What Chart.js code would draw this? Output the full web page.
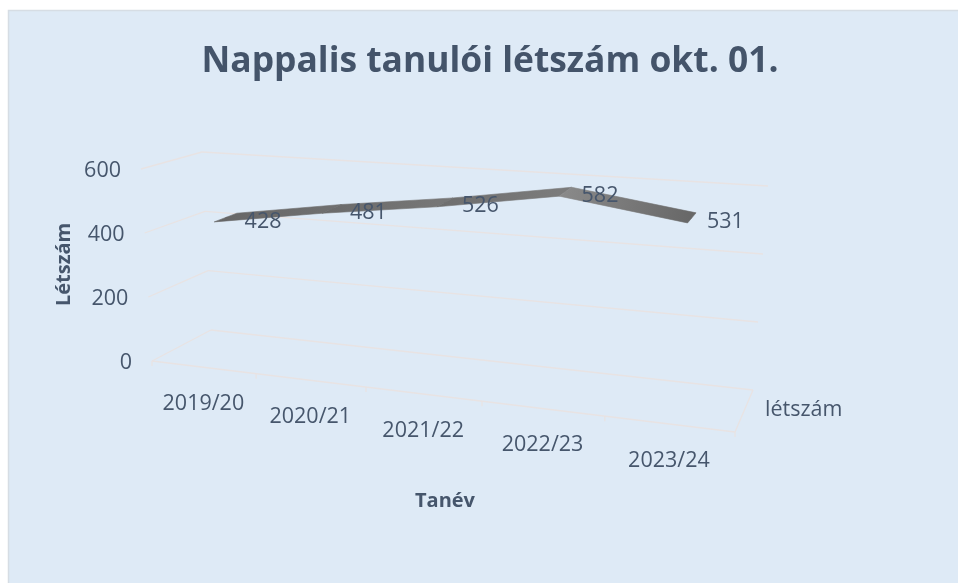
<!DOCTYPE html>
<html lang="hu"><head><meta charset="utf-8">
<style>html,body{margin:0;padding:0;background:#fff}#w{width:958px;height:583px}</style>
<script src="https://cdn.jsdelivr.net/npm/chart.js@4"></script></head>
<body><div id="w"><canvas id="c" width="958" height="583"></canvas></div>
<script>
const categories = ['2019/20','2020/21','2021/22','2022/23','2023/24'];
const values = [428,481,526,582,531];
const seriesName = 'létszám';
const titleText = 'Nappalis tanulói létszám okt. 01.';
const yAxisTitle = 'Létszám';
const xAxisTitle = 'Tanév';

const INK = '#46566c', GRID = '#e8e3e3', PANEL = '#deeaf6';
const FONT = '"Open Sans", sans-serif';
// Projection box: corners of the oblique 3D frame on screen
const box = {
  fb:[152,361], fbr:[735,432], ft:[141,169], ftr:[752,210],
  bb:[211,330], bbr:[753,390], bt:[202,152], btr:[768,186]
};
const lerp=(a,b,t)=>[a[0]+(b[0]-a[0])*t,a[1]+(b[1]-a[1])*t];
const warp=u=>u/(u+1.15*(1-u));
function project(u,v,w){
  const s=warp(u);
  const f=lerp(lerp(box.fb,box.fbr,s),lerp(box.ft,box.ftr,s),v);
  const b=lerp(lerp(box.bb,box.bbr,s),lerp(box.bt,box.btr,s),v);
  return lerp(f,b,w);
}
const RIB_F=0.30, RIB_B=0.70;
const segColors=[['#666','#6f6f6f'],['#6a6a6a','#767676'],['#6e6e6e','#7b7b7b'],['#8a8a8a','#686868']];
function norm(chart,x,y){
  const a=chart.chartArea;
  return [(x-a.left)/(a.right-a.left),(a.bottom-y)/(a.bottom-a.top)];
}
function line(ctx,p,q){ctx.beginPath();ctx.moveTo(p[0],p[1]);ctx.lineTo(q[0],q[1]);ctx.stroke();}

const frame3d={
  id:'frame3d',
  afterLayout(chart){
    // the title is centred on the whole panel, not on the plot
    chart.titleBlock.left+=64;chart.titleBlock.right+=64;
  },
  beforeDraw(chart){
    const c=chart.ctx;c.save();
    c.fillStyle=PANEL;c.fillRect(8,10,950,573);
    c.strokeStyle='#d6dde4';c.lineWidth=1.5;
    c.beginPath();c.moveTo(8.5,583);c.lineTo(8.5,10.5);c.lineTo(958,10.5);c.stroke();
    c.restore();
  },
  afterDatasetsUpdate(chart){
    // the line's points go through the scales, then through the oblique view
    chart.getDatasetMeta(0).data.forEach(pt=>{
      const [u,v]=norm(chart,pt.x,pt.y);
      const p=project(u,v,(RIB_F+RIB_B)/2);
      pt.x=p[0];pt.y=p[1];
    });
  },
  beforeDatasetsDraw(chart){
    const c=chart.ctx,ys=chart.scales.y,n=categories.length;
    c.save();c.strokeStyle=GRID;c.lineWidth=1.3;
    ys.ticks.forEach(t=>{
      const v=norm(chart,0,ys.getPixelForValue(t.value))[1];
      line(c,project(0,v,0),project(0,v,1));
      line(c,project(0,v,1),project(1,v,1));
    });
    line(c,project(0,0,0),project(1,0,0));
    line(c,project(1,0,0),project(1,0,1));
    for(let i=0;i<=n;i++){
      const p=project(i/n,0,0);
      line(c,p,[p[0],p[1]+5]);
    }
    c.restore();
  },
  afterDatasetsDraw(chart){
    const c=chart.ctx,ys=chart.scales.y,xs=chart.scales.x,n=categories.length;
    const a=chart.chartArea;
    const uvs=values.map((val,i)=>[(xs.getPixelForValue(i)-a.left)/(a.right-a.left),norm(chart,0,ys.getPixelForValue(val))[1]]);
    c.save();
    // ribbon of the 3D line
    for(let i=0;i<n-1;i++){
      const A=project(uvs[i][0],uvs[i][1],RIB_F),B=project(uvs[i][0],uvs[i][1],RIB_B);
      const C=project(uvs[i+1][0],uvs[i+1][1],RIB_B),D=project(uvs[i+1][0],uvs[i+1][1],RIB_F);
      const g=c.createLinearGradient(A[0],A[1],D[0],D[1]);
      g.addColorStop(0,segColors[i][0]);g.addColorStop(1,segColors[i][1]);
      c.fillStyle=g;c.strokeStyle=g;c.lineWidth=0.6;
      c.beginPath();c.moveTo(A[0],A[1]);c.lineTo(B[0],B[1]);c.lineTo(C[0],C[1]);c.lineTo(D[0],D[1]);c.closePath();c.fill();c.stroke();
    }
    c.fillStyle=INK;c.font='21.5px '+FONT;c.textBaseline='middle';
    // value labels
    c.textAlign='center';
    uvs.forEach((uv,i)=>{
      const p=project(uv[0],uv[1],(RIB_F+RIB_B)/2);
      c.fillText(String(values[i]),p[0]+38-5*uv[0],p[1]+4);
    });
    // category labels
    categories.forEach((lab,i)=>{
      const p=project(uvs[i][0],0,0);
      c.fillText(lab,p[0],p[1]+36.5);
    });
    // value axis labels
    c.textAlign='right';
    ys.ticks.forEach(t=>{
      const v=norm(chart,0,ys.getPixelForValue(t.value))[1];
      const p=project(0,v,0);
      c.fillText(t.label,p[0]-20,p[1]+1.5);
    });
    // series axis label
    c.textAlign='left';
    const s=project(1,0,0.5);
    c.fillText(seriesName,s[0]+21,s[1]-1);
    c.restore();
  }
};

new Chart(document.getElementById('c'),{
  type:'line',
  data:{labels:categories,datasets:[{label:seriesName,data:values,borderColor:'#6e6e6e',borderWidth:1,pointRadius:0,tension:0,fill:false,clip:false}]},
  plugins:[frame3d],
  options:{
    responsive:false,animation:false,
    events:[],
    layout:{padding:{left:52,right:158,top:0,bottom:70}},
    plugins:{
      legend:{display:false},tooltip:{enabled:false},
      title:{display:true,text:titleText,color:'#44546a',font:{family:FONT,size:35.4,weight:'bold'},padding:{top:41,bottom:90.5}}
    },
    scales:{
      x:{offset:true,grid:{display:false},border:{display:false},ticks:{display:false},
         title:{display:true,text:xAxisTitle,color:INK,font:{family:FONT,size:20,weight:'bold'},padding:{top:126,bottom:0}}},
      y:{min:0,max:600,ticks:{display:false,stepSize:200},grid:{display:false},border:{display:false},
         title:{display:true,text:yAxisTitle,color:INK,font:{family:FONT,size:20,weight:'bold'},padding:{top:0,bottom:6}}}
    }
  }
});
</script></body></html>
